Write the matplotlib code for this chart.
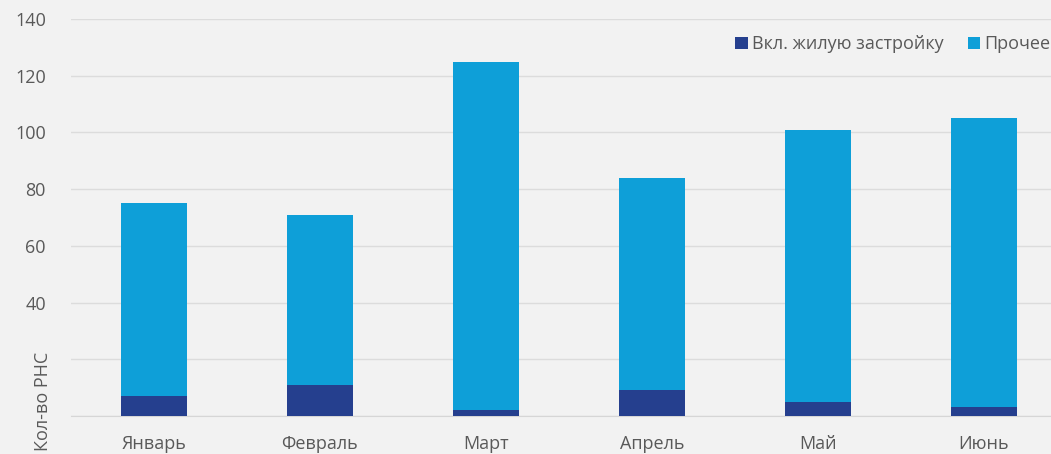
import matplotlib.pyplot as plt
import numpy as np

plt.rcParams['font.family'] = ['Open Sans', 'DejaVu Sans']

# Количество РНС по месяцам
months = ['Январь', 'Февраль', 'Март', 'Апрель', 'Май', 'Июнь']
residential = np.array([7, 11, 2, 9, 5, 3])      # Вкл. жилую застройку
other = np.array([68, 60, 123, 75, 96, 102])     # Прочее
y_ticks = [0, 20, 40, 60, 80, 100, 120, 140]
y_ticklabels = ['', '', '40', '60', '80', '100', '120', '140']

bg = '#f2f2f2'
dark = '#253f8e'
light = '#0e9fd8'
text_col = '#595959'

fig = plt.figure(figsize=(10.51, 4.54), dpi=100, facecolor=bg)
ax = fig.add_axes([71 / 1051, 38 / 454, 996 / 1051, 397 / 454], facecolor=bg)

x = np.arange(len(months))
ax.bar(x, residential, width=0.4, color=dark, label='Вкл. жилую застройку', zorder=3)
ax.bar(x, other, width=0.4, bottom=residential, color=light, label='Прочее', zorder=3)

ax.set_xlim(-0.5, len(months) - 0.5)
ax.set_ylim(0, 140)
ax.set_yticks(y_ticks)
ax.set_yticklabels(y_ticklabels)
ax.set_xticks(x)
ax.set_xticklabels(months)
ax.tick_params(axis='both', length=0, labelsize=13, colors=text_col)
ax.tick_params(axis='x', pad=14)
ax.tick_params(axis='y', pad=18)
ax.grid(axis='y', color='#dcdcdc', linewidth=1, zorder=0)

for side in ['top', 'right', 'left']:
    ax.spines[side].set_visible(False)
ax.spines['bottom'].set_color('#d6d6d6')

fig.text(43 / 1051, 1 - 401 / 454, 'Кол-во РНС', rotation=90, ha='center', va='center',
         fontsize=13, color=text_col)

leg = ax.legend(loc='upper left', ncol=2, frameon=False, fontsize=13,
                handlelength=0.7, handleheight=0.7, handletextpad=0.25, columnspacing=1.3,
                bbox_to_anchor=(648 / 996, 1), bbox_transform=ax.transAxes)
for t in leg.get_texts():
    t.set_color(text_col)

fig.savefig('out.png', dpi=100, facecolor=bg)
